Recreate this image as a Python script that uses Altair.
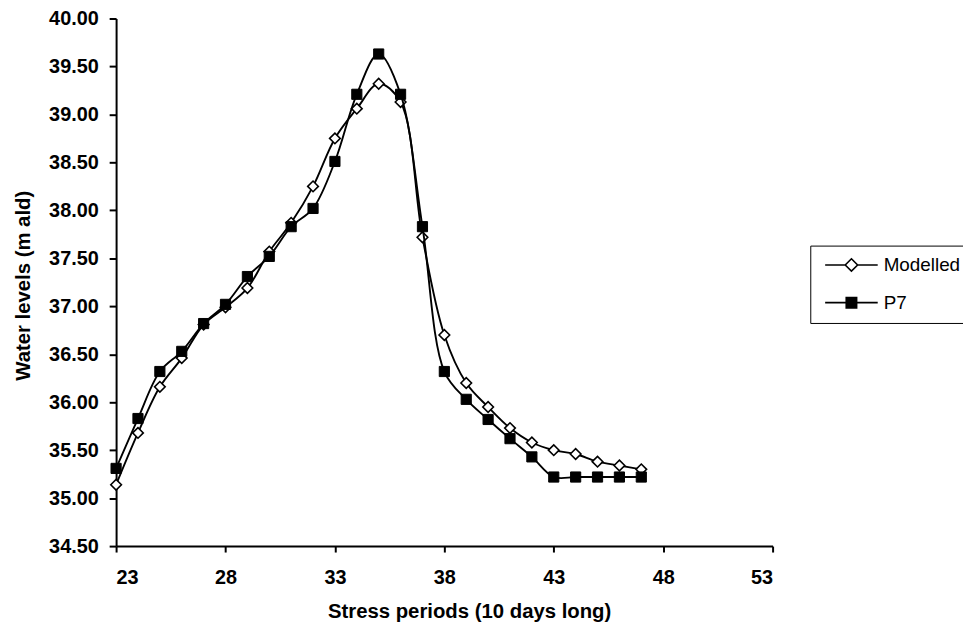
import altair as alt
import pandas as pd

# ---- data ----
periods = list(range(23, 48))
modelled = [35.14, 35.68, 36.16, 36.46, 36.81, 36.99, 37.19, 37.57, 37.87, 38.25,
            38.75, 39.06, 39.32, 39.13, 37.72, 36.70, 36.20, 35.95, 35.73, 35.58,
            35.50, 35.46, 35.38, 35.34, 35.30]
p7 = [35.31, 35.83, 36.32, 36.53, 36.82, 37.02, 37.31, 37.52, 37.83, 38.02,
      38.51, 39.21, 39.63, 39.21, 37.83, 36.32, 36.03, 35.82, 35.62, 35.43,
      35.22, 35.22, 35.22, 35.22, 35.22]
series_names = ["Modelled", "P7"]
x_ticks = [23, 28, 33, 38, 43, 48, 53]
y_ticks = [34.5, 35.0, 35.5, 36.0, 36.5, 37.0, 37.5, 38.0, 38.5, 39.0, 39.5, 40.0]

df = pd.DataFrame({
    "period": periods + periods,
    "level": modelled + p7,
    "series": [series_names[0]] * len(periods) + [series_names[1]] * len(periods),
})

FONT = "Liberation Sans"

x_enc = alt.X(
    "period:Q",
    scale=alt.Scale(domain=[23, 53], nice=False, zero=False),
    axis=alt.Axis(
        values=x_ticks, format="d", title="Stress periods (10 days long)",
        titleX=356, titleY=72, titleBaseline="alphabetic", titleAlign="center",
        tickSize=6, labelPadding=16,
    ),
)
y_enc = alt.Y(
    "level:Q",
    scale=alt.Scale(domain=[34.5, 40.0], nice=False, zero=False),
    axis=alt.Axis(
        values=y_ticks, format=".2f", title="Water levels (m ald)",
        titleX=-87.5, titleY=269, titleBaseline="alphabetic", titleAlign="center",
        titleAngle=270, tickSize=7, labelPadding=11,
    ),
)

base = alt.Chart(df)

line_m = base.transform_filter(alt.datum.series == "Modelled").mark_line(
    color="black", strokeWidth=1.9, interpolate="catmull-rom"
).encode(x=x_enc, y=y_enc)
pts_m = base.transform_filter(alt.datum.series == "Modelled").mark_point(
    shape="diamond", filled=True, fill="white", stroke="black",
    strokeWidth=1.6, size=115, opacity=1
).encode(x=x_enc, y=y_enc)

line_p = base.transform_filter(alt.datum.series == "P7").mark_line(
    color="black", strokeWidth=1.9, interpolate="catmull-rom"
).encode(x=x_enc, y=y_enc)
pts_p = base.transform_filter(alt.datum.series == "P7").mark_point(
    shape="square", filled=True, fill="black", stroke="black",
    strokeWidth=1, size=105, opacity=1
).encode(x=x_enc, y=y_enc)

path_m = "M-5.3,0L-1.25,0M1.25,0L5.3,0M0,-1.25L1.25,0L0,1.25L-1.25,0Z"
path_p = "M-5.3,0L-1.05,0M1.05,0L5.3,0M-1.05,-1.05L1.05,-1.05L1.05,1.05L-1.05,1.05Z"

leg = alt.Legend(
    title=None, orient="none", legendX=700, legendY=229,
    strokeColor="black", fillColor="white", padding=10, rowPadding=18,
    labelFont=FONT, labelFontSize=19, labelColor="black",
    symbolOffset=22, labelOffset=23, symbolSize=100,
    symbolStrokeColor="black", symbolStrokeWidth=1.6,
)

legend_layer = base.transform_filter("false").mark_point(
    filled=True, strokeWidth=1.6, size=100, opacity=1
).encode(
    x=x_enc, y=y_enc,
    shape=alt.Shape("series:N", scale=alt.Scale(domain=series_names, range=[path_m, path_p]), legend=leg),
    fill=alt.Fill("series:N", scale=alt.Scale(domain=series_names, range=["white", "black"]), legend=leg),
    stroke=alt.Stroke("series:N", scale=alt.Scale(domain=series_names, range=["black", "black"]), legend=leg),
)

chart = alt.layer(line_m, pts_m, line_p, pts_p, legend_layer).properties(
    width=662, height=532,
    autosize=alt.AutoSizeParams(type="none"),
    padding={"left": 109, "top": 8, "right": 192, "bottom": 81},
).configure_view(stroke=None).configure_axis(
    grid=False, domainColor="black", domainWidth=2, tickColor="black", tickWidth=2,
    labelFont=FONT, labelFontSize=20, labelFontWeight="bold", labelColor="black",
    titleFont=FONT, titleFontSize=20.5, titleFontWeight="bold", titleColor="black",
)

chart.save("out.html", embed_options={"renderer": "svg", "actions": False})
